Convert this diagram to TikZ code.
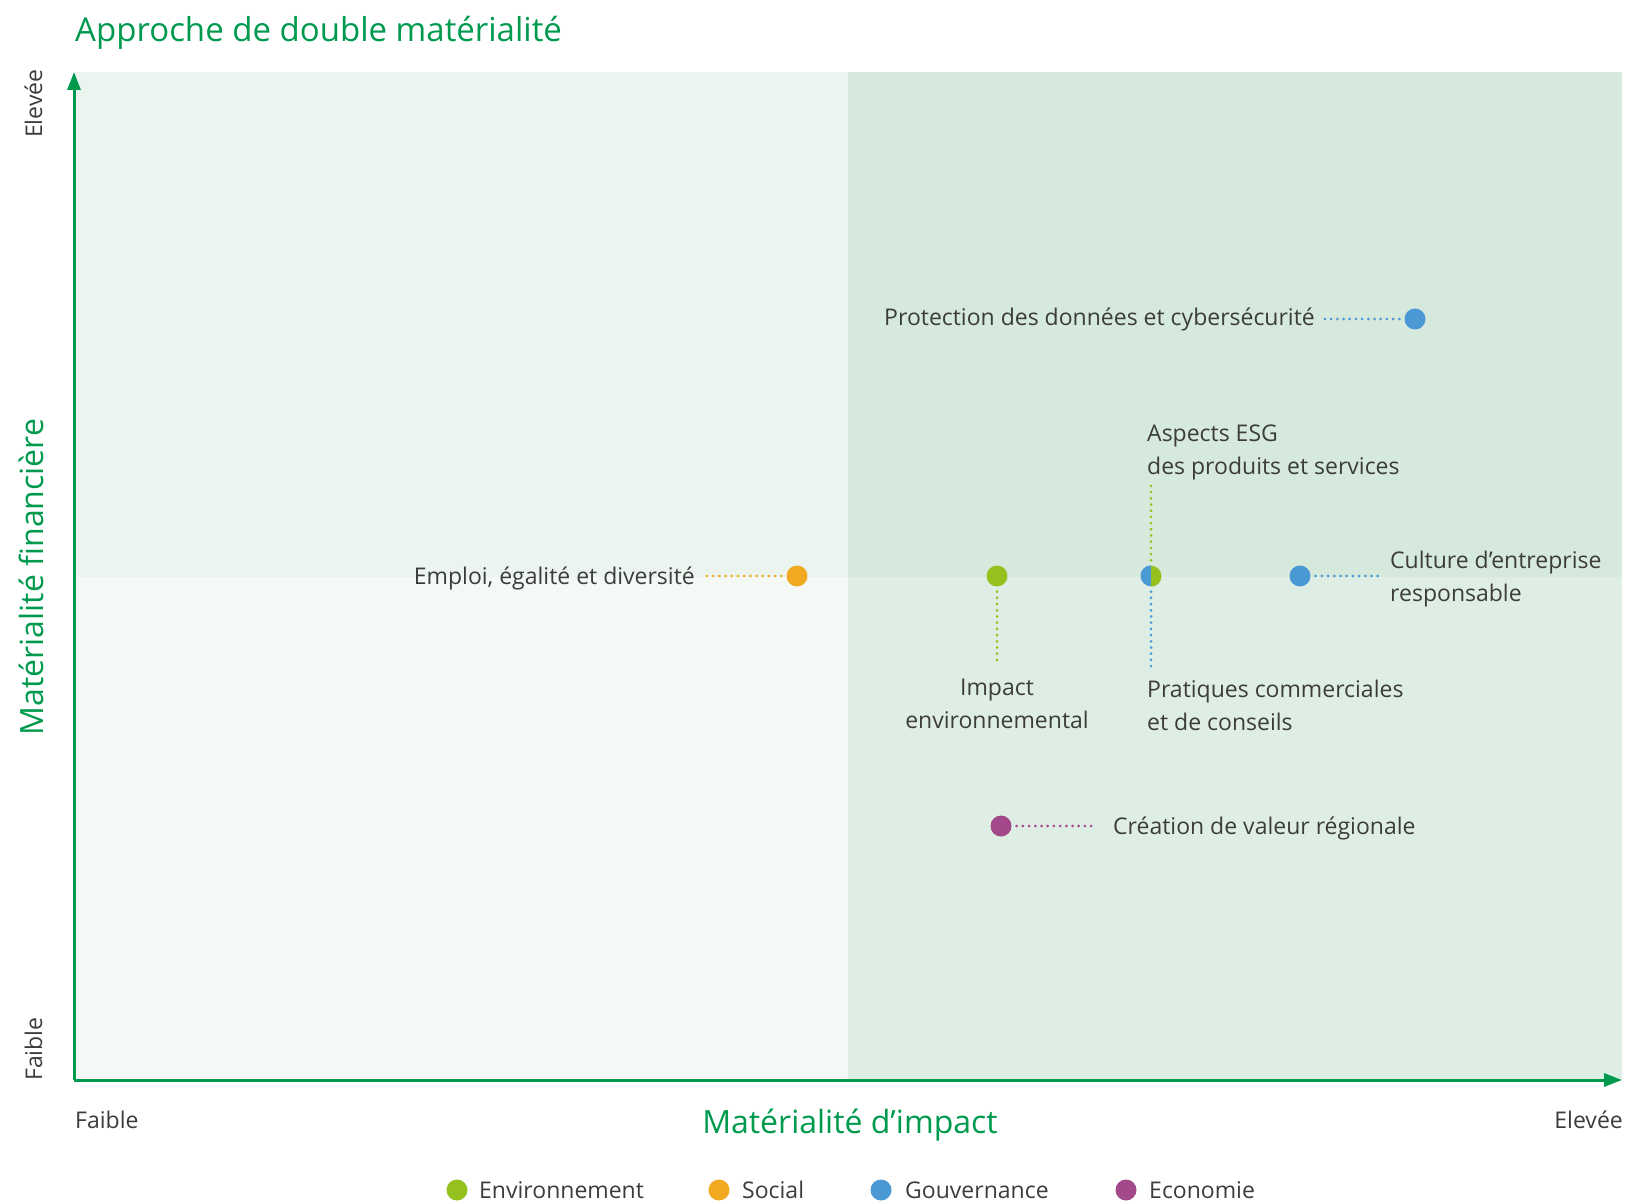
\documentclass[tikz,border=0pt]{standalone}
\usepackage{fontspec}
\setmainfont{Open Sans}
\usepackage{tikz}
\usetikzlibrary{positioning}
\usetikzlibrary{arrows.meta}
\definecolor{axisgreen}{HTML}{009A4E}
\definecolor{envgreen}{HTML}{95C11F}
\definecolor{socorange}{HTML}{F2A922}
\definecolor{govblue}{HTML}{4A98D4}
\definecolor{ecopurple}{HTML}{A3488B}
\definecolor{txtgray}{HTML}{3C3C3B}
\definecolor{quadtl}{HTML}{EBF4EE}
\definecolor{quadtr}{HTML}{D6E9DD}
\definecolor{quadbl}{HTML}{F5F9F6}
\definecolor{quadbr}{HTML}{DFEEE5}

\tikzset{
	pointdot/.style={circle,fill=#1,minimum size=21pt,inner sep=0pt},
	lbl/.style={text=txtgray,font=\fontsize{23}{32.5}\selectfont,inner sep=0pt,align=left},
	leader/.style={draw=#1,line width=3pt,dash pattern=on 0pt off 6.2pt,line cap=round},
	axtitle/.style={text=axisgreen,font=\fontsize{32}{38}\selectfont,inner sep=0pt},
	axline/.style={draw=axisgreen,line width=3pt,-{Triangle[length=18pt,width=13pt]}}
}

\begin{document}
\begin{tikzpicture}[x=1pt,y=-1pt]
				\useasboundingbox (0,0) rectangle (1628,1201);
				%Quadrants
				\coordinate      (o)  	at 	(74,1080);
				\coordinate      (xe) 	at 	(1622,1080);
				\coordinate      (ye) 	at 	(74,72);
				\coordinate      (mid) 	at 	(848,577);
				\fill[quadtl] (74,72) rectangle (mid);
				\fill[quadtr] (848,72) rectangle (1622,577);
				\fill[quadbl] (74,577) rectangle (848,1080);
				\fill[quadbr] (mid) rectangle (1622,1080);

				%Axes
				\draw[axline] (o) -- (ye);
				\draw[axline] (o) -- (xe);
				\node[axtitle,anchor=base west] (title) at (75,42) {\fontsize{33}{38}\selectfont Approche de double matérialité};
				\node[axtitle,anchor=base] (xtitle) at (850,1133) {Matérialité d’impact};
				\node[axtitle,anchor=base,rotate=90] (ytitle) at (43,577) {Matérialité financière};
				\node[lbl,anchor=base west] (xlow) at (75,1128) {Faible};
				\node[lbl,anchor=base east] (xhigh) at (1623,1128) {Elevée};
				\node[lbl,anchor=base west,rotate=90] (ylow) at (42,1081) {Faible};
				\node[lbl,anchor=base west,rotate=90] (yhigh) at (42,138) {Elevée};

				%Points
				\node[pointdot=govblue]    (prot) 	at 	(1415,319) {};
				\node[pointdot=govblue]    (cult) 	at 	(1300,576) {};
				\node[pointdot=socorange]  (empl) 	at 	(797,576) {};
				\node[pointdot=envgreen]   (envi) 	at 	(997,576) {};
				\node[pointdot=ecopurple]  (crea) 	at 	(1001,826) {};
				\node[circle,minimum size=21pt,inner sep=0pt] (esg) at (1151,576) {};
				\fill[govblue] (esg.north) arc[start angle=90,end angle=270,radius=10.5pt] -- cycle;
				\fill[envgreen] (esg.south) arc[start angle=-90,end angle=90,radius=10.5pt] -- cycle;

				\coordinate      (protend) 	at 	(1323,319);
				\coordinate      (cultend) 	at 	(1380,576);
				\coordinate      (emplend) 	at 	(705,576);
				\coordinate      (enviend) 	at 	(997,666);
				\coordinate      (creaend) 	at 	(1096,826);
				\coordinate      (esgup) 	at 	(1151,484);
				\coordinate      (esgdown) 	at 	(1151,668);

				%Lines
				\draw[leader=govblue,shorten <=5pt] (prot) -- (protend);
				\draw[leader=govblue,shorten <=5pt] (cult) -- (cultend);
				\draw[leader=socorange,shorten <=5pt] (empl) -- (emplend);
				\draw[leader=envgreen,shorten <=5pt] (envi) -- (enviend);
				\draw[leader=ecopurple,shorten <=5pt] (crea) -- (creaend);
				\draw[leader=envgreen,shorten <=5pt] (esg) -- (esgup);
				\draw[leader=govblue,shorten <=5pt] (esg) -- (esgdown);

				%Labels
				\node[lbl,anchor=base east] (protlbl) at (1315,325) {Protection des données et cybersécurité};
				\node[lbl,anchor=base west] (esglbl) at (1147,474) {Aspects ESG\\des produits et services};
				\node[lbl,anchor=base west] (pratlbl) at (1147,730) {Pratiques commerciales\\et de conseils};
				\node[lbl,anchor=base west] (cultlbl) at (1390,601) {Culture d’entreprise\\responsable};
				\node[lbl,anchor=base east] (empllbl) at (695,584) {Emploi, égalité et diversité};
				\node[lbl,anchor=base,align=center] (envilbl) at (997,728) {Impact\\environnemental};
				\node[lbl,anchor=base west] (crealbl) at (1113,834) {Création de valeur régionale};

				%Legend
				\node[pointdot=envgreen]   (legenv) 	at 	(457,1190) {};
				\node[pointdot=socorange]  (legsoc) 	at 	(719,1190) {};
				\node[pointdot=govblue]    (leggov) 	at 	(881,1190) {};
				\node[pointdot=ecopurple]  (legeco) 	at 	(1126,1190) {};
				\node[lbl,anchor=base west] (legenvlbl) at (479,1198) {Environnement};
				\node[lbl,anchor=base west] (legsoclbl) at (742,1198) {Social};
				\node[lbl,anchor=base west] (leggovlbl) at (905,1198) {Gouvernance};
				\node[lbl,anchor=base west] (legecolbl) at (1149,1198) {Economie};
		\end{tikzpicture}
\end{document}
